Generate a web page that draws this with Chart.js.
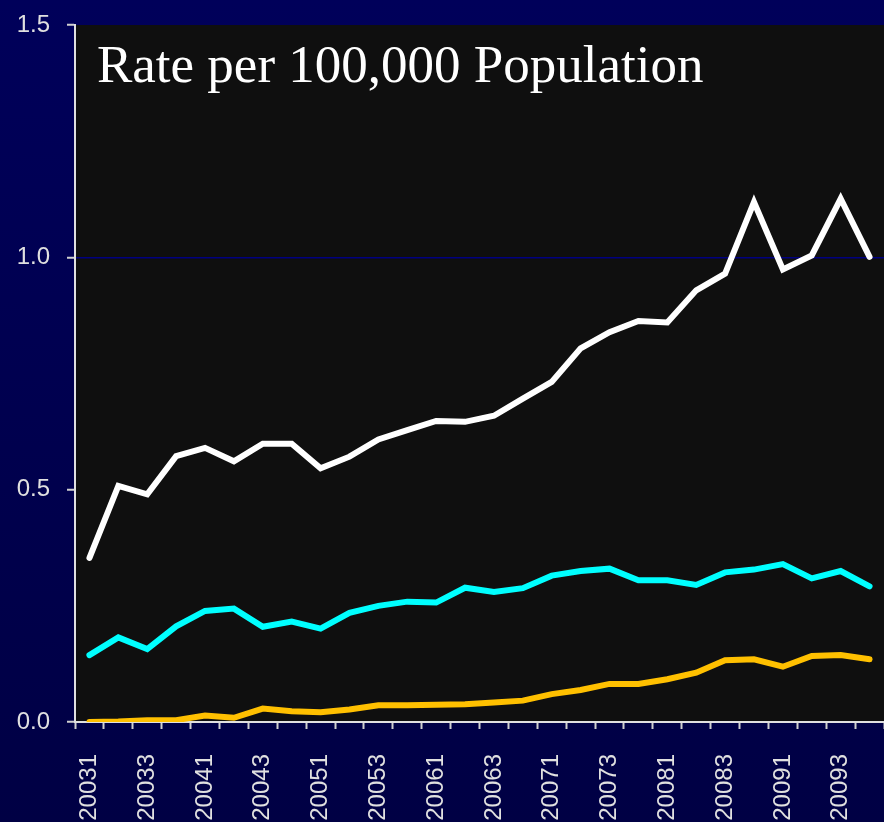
<!DOCTYPE html>
<html>
<head>
<meta charset="utf-8">
<script src="https://cdn.jsdelivr.net/npm/chart.js@4/dist/chart.umd.min.js"></script>
<style>
  html, body { margin: 0; padding: 0; background: #000050; }
  #wrap { position: relative; width: 884px; height: 822px; background: linear-gradient(#00005a, #000044); }
  canvas { display: block; }
</style>
</head>
<body>
<div id="wrap"><canvas id="c" width="884" height="822"></canvas></div>
<script>
const categories = ["20031","20032","20033","20034","20041","20042","20043","20044","20051","20052","20053","20054","20061","20062","20063","20064","20071","20072","20073","20074","20081","20082","20083","20084","20091","20092","20093","20094"];
const whiteSeries = [0.353,0.508,0.490,0.572,0.590,0.561,0.599,0.599,0.546,0.571,0.608,0.628,0.648,0.646,0.659,0.696,0.732,0.804,0.839,0.863,0.860,0.929,0.965,1.119,0.974,1.004,1.126,1.001];
const cyanSeries = [0.144,0.182,0.157,0.206,0.239,0.244,0.205,0.216,0.201,0.235,0.250,0.259,0.257,0.289,0.280,0.288,0.315,0.325,0.330,0.305,0.305,0.295,0.322,0.328,0.340,0.309,0.325,0.292];
const orangeSeries = [0.000,0.001,0.004,0.004,0.014,0.009,0.029,0.023,0.021,0.027,0.036,0.036,0.037,0.038,0.042,0.046,0.060,0.069,0.082,0.082,0.092,0.106,0.133,0.135,0.119,0.142,0.144,0.135];
const yTicks = [0, 0.5, 1.0, 1.5];
const titleText = "Rate per 100,000 Population";

const plotBg = {
  id: 'plotBg',
  beforeDraw(chart) {
    const {ctx, chartArea: a} = chart;
    ctx.save();
    ctx.fillStyle = '#0f0f0f';
    ctx.fillRect(a.left, a.top, a.right - a.left, a.bottom - a.top);
    ctx.restore();
  },
  afterDatasetsDraw(chart) {
    const {ctx, chartArea: a} = chart;
    ctx.save();
    ctx.fillStyle = '#ffffff';
    ctx.font = '53px "Liberation Serif", "Times New Roman", serif';
    ctx.textBaseline = 'alphabetic';
    ctx.textAlign = 'left';
    ctx.fillText(titleText, a.left + 22, a.top + 57);
    ctx.restore();
  }
};

new Chart(document.getElementById('c'), {
  type: 'line',
  data: {
    labels: categories,
    datasets: [
      { data: whiteSeries, borderColor: '#ffffff', borderWidth: 6, pointRadius: 0, tension: 0, borderCapStyle: 'round' },
      { data: cyanSeries, borderColor: '#00ffff', borderWidth: 6, pointRadius: 0, tension: 0, borderCapStyle: 'round' },
      { data: orangeSeries, borderColor: '#ffc000', borderWidth: 6, pointRadius: 0, tension: 0, borderCapStyle: 'round' }
    ]
  },
  options: {
    responsive: false,
    animation: false,
    events: [],
    layout: { padding: { top: 25, left: 0, right: 0, bottom: 0 } },
    plugins: { legend: { display: false }, tooltip: { enabled: false } },
    scales: {
      x: {
        offset: true,
        grid: { offset: true, color: 'rgba(0,0,0,0)', tickColor: '#d0d0d0', tickLength: 7, tickWidth: 2, drawOnChartArea: false },
        border: { color: '#e0e0e0', width: 2 },
        ticks: {
          autoSkip: false, maxRotation: 90, minRotation: 90, padding: 25,
          color: '#e0e0e0', font: { family: '"Liberation Sans", Arial, sans-serif', size: 24 },
          callback: function(v, i) { return i % 2 === 0 ? categories[i] : ''; }
        },
        afterFit(s) { s.height = 100; s.paddingLeft = 0; s.paddingRight = 0; }
      },
      y: {
        min: 0, max: 1.5,
        afterBuildTicks(s) { s.ticks = yTicks.map(v => ({ value: v })); },
        grid: {
          color: (c) => (c.tick && c.tick.value === 1) ? '#000080' : 'rgba(0,0,0,0)',
          tickColor: '#d0d0d0', tickLength: 8, tickWidth: 2, lineWidth: 1.5
        },
        border: { color: '#e0e0e0', width: 2 },
        ticks: {
          padding: 17, color: '#e0e0e0',
          font: { family: '"Liberation Sans", Arial, sans-serif', size: 24 },
          callback: (v) => Number(v).toFixed(1)
        },
        afterFit(s) { s.width = 75; s.paddingTop = 0; s.paddingBottom = 0; }
      }
    }
  },
  plugins: [plotBg]
});
</script>
</body>
</html>
